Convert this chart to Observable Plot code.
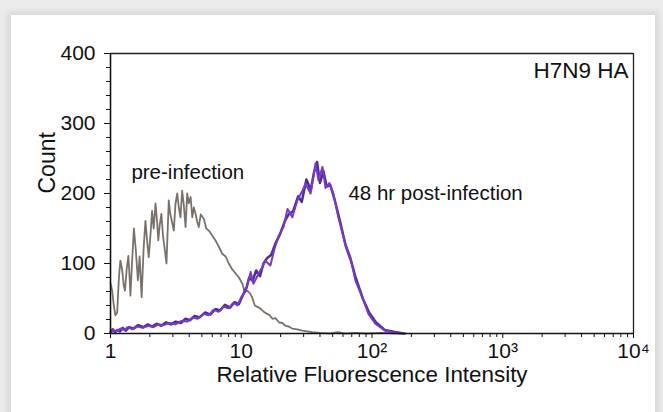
<!DOCTYPE html>
<html>
<head>
<meta charset="utf-8">
<script src="https://cdn.jsdelivr.net/npm/d3@7"></script>
<script src="https://cdn.jsdelivr.net/npm/@observablehq/plot@0.6"></script>
<style>
  body { margin: 0; background: #fff; }
  #wrap { position: relative; width: 663px; height: 412px; overflow: hidden; background: #ebebeb; }
  #panel { position: absolute; left: 11px; top: 15px; width: 644px; height: 420px; background: #fff;
           box-shadow: 0 0 6px 3px rgba(0,0,0,0.09); }
  #chart { position: absolute; left: 0; top: 0; }
</style>
</head>
<body>
<div id="wrap"><div id="panel"></div><div id="chart"></div></div>
<script>
// Pre-infection histogram (gray)
const preX = [1.00,1.03,1.06,1.09,1.125,1.16,1.19,1.23,1.26,1.29,1.33,1.37,1.40,1.42,1.46,1.51,1.56,1.62,1.67,1.73,1.79,1.85,1.90,1.96,2.02,2.08,2.14,2.21,2.27,2.32,2.38,2.45,2.52,2.60,2.68,2.74,2.79,2.87,2.95,3.05,3.14,3.24,3.33,3.43,3.53,3.63,3.75,3.86,3.97,4.10,4.22,4.34,4.47,4.60,4.73,4.90,5.17,5.40,5.65,6.00,6.35,6.70,7.15,7.60,8.03,8.50,9.03,9.60,10.2,10.6,11.1,11.6,12.1,12.7,13.3,13.9,14.5,15.1,15.8,16.5,17.3,18.3,19.4,20.6,21.8,23.1,24.5,26.8,29.3,32,34.9,40,48,55,62,75,90,120,165];
const preY = [72,61,40,26,30,80,104,90,70,61,92,111,80,54,100,150,120,76,110,52,120,161,135,109,140,175,150,186,160,133,155,171,140,120,100,150,190,170,160,147,185,200,180,166,204,185,152,200,186,195,166,180,171,160,152,170,164,150,147,140,133,125,114,110,100,92,86,80,71,60,61,58,52,40,38,36,33,30,28,26,21,22,16,15,11,10,7,6,4,3,2,1,0,2,0,1,0,1,0];

// 48 hr post-infection histograms (two overlaid purple traces)
const postAX = [1.00,1.05,1.11,1.19,1.28,1.35,1.47,1.61,1.76,1.95,2.13,2.33,2.54,2.83,3.14,3.49,3.88,4.24,4.63,5.14,5.62,6.14,6.70,7.31,7.98,8.72,9.35,10.0,10.8,11.8,12.4,13.6,14.5,15.3,16.7,17.9,19.2,21.0,22.6,24.6,26.8,29.4,31.0,33.9,37.0,39.0,41.8,44.1,47.2,50.6,55.3,62.5,68.4,74.6,84.3,93.9,106,126,150,180];
const postAY = [0,5,3,7,5,9,6,10,8,11,9,13,12,15,13,18,17,23,21,28,26,34,31,38,36,44,40,52,60,88,71,86,95,104,97,120,138,152,178,166,190,204,214,200,243,219,238,208,215,200,166,128,109,76,52,28,14,4,1,0];
const postBX = [1.00,1.04,1.08,1.13,1.18,1.24,1.31,1.39,1.50,1.63,1.78,1.93,2.08,2.25,2.45,2.66,2.90,3.15,3.45,3.75,4.05,4.40,4.80,5.30,5.80,6.35,6.90,7.50,8.20,8.90,9.60,10.3,11.0,11.5,12.2,13.0,13.9,14.8,15.8,16.9,18.2,19.8,21.5,23.0,25.0,27.2,29.0,31.5,34.0,36.0,38.0,40.0,42.5,45.0,48.0,52.0,57.0,63.0,69.0,75.0,85.0,95.0,107,125,150,175];
const postBY = [2,6,2,5,3,8,4,9,7,12,9,13,10,14,11,16,13,17,15,21,19,25,23,30,27,35,33,41,37,45,42,55,66,80,75,90,82,100,108,112,128,142,160,170,175,196,188,220,205,230,245,215,232,210,212,190,160,125,104,80,50,30,16,5,2,0];

// Axis ticks
const xMajor = [1, 10, 100, 1000, 10000];
const xMajorLabels = ["1", "10", "10²", "10³", "10⁴"];
const xMinor = [2,3,4,5,6,7,8,9,20,30,40,50,60,70,80,90,200,300,400,500,600,700,800,900,2000,3000,4000,5000,6000,7000,8000,9000];
const yMajor = [0, 100, 200, 300, 400];
const yMinor = [20,40,60,80,120,140,160,180,220,240,260,280,320,340,360,380];

// Annotations
const notesMiddle = [{x: 3.9, y: 230, text: "pre-infection"}];
const notesStart = [{x: 66, y: 200, text: "48 hr post-infection"}];
const notesEnd = [{x: 9150, y: 375, text: "H7N9 HA"}];

const pre = preX.map((x, i) => ({x, y: preY[i]}));
const postA = postAX.map((x, i) => ({x, y: postAY[i]}));
const postB = postBX.map((x, i) => ({x, y: postBY[i]}));

const chart = Plot.plot({
  width: 663,
  height: 412,
  marginLeft: 110,
  marginRight: 30,
  marginTop: 53,
  marginBottom: 79,
  x: {type: "log", domain: [1, 10000]},
  y: {domain: [0, 400]},
  style: {fontFamily: "'Liberation Sans', Arial, sans-serif", background: "transparent", color: "#111", overflow: "visible"},
  marks: [
    Plot.ruleY([400], {stroke: "#222", strokeWidth: 1.3}),
    Plot.ruleX([10000], {stroke: "#222", strokeWidth: 1.3}),
    Plot.line(pre, {x: "x", y: "y", stroke: "#7a716b", strokeWidth: 1.8}),
    Plot.line(postB, {x: "x", y: "y", stroke: "#4a2f9a", strokeWidth: 2.5}),
    Plot.line(postA, {x: "x", y: "y", stroke: "#7a38c8", strokeWidth: 2}),
    Plot.axisY({ticks: yMajor, tickSize: 6, tickPadding: 9, fontSize: 21, label: null, stroke: "#111"}),
    Plot.axisY({ticks: yMinor, tickSize: 4, tickFormat: () => "", label: null, stroke: "#111"}),
    Plot.axisX({ticks: xMajor, tickSize: 5, tickPadding: 5, fontSize: 21, label: null, stroke: "#111",
                tickFormat: (d) => xMajorLabels[xMajor.indexOf(d)]}),
    Plot.axisX({ticks: xMinor, tickSize: 4, tickFormat: () => "", label: null, stroke: "#111"}),
    Plot.ruleY([0], {stroke: "#111", strokeWidth: 1.6}),
    Plot.ruleX([1], {stroke: "#111", strokeWidth: 1.6}),
    Plot.text(notesMiddle, {x: "x", y: "y", text: "text", textAnchor: "middle", fontSize: 20.5, fill: "#111"}),
    Plot.text(notesStart, {x: "x", y: "y", text: "text", textAnchor: "start", fontSize: 20.5, fill: "#111"}),
    Plot.text(notesEnd, {x: "x", y: "y", text: "text", textAnchor: "end", fontSize: 22.5, fill: "#111"}),
    Plot.text(["Count"], {frameAnchor: "left", dx: -63, rotate: -90, fontSize: 23, fill: "#111"}),
    Plot.text(["Relative Fluorescence Intensity"], {frameAnchor: "bottom", dy: 48, fontSize: 22.4, fill: "#111"})
  ]
});
document.getElementById("chart").appendChild(chart);
</script>
</body>
</html>
